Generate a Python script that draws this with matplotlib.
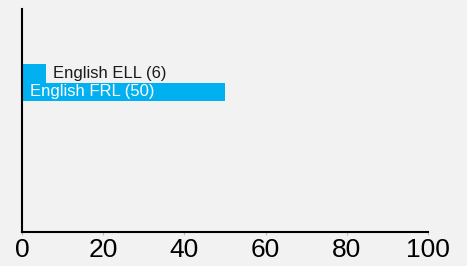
import matplotlib.pyplot as plt

categories = ["English ELL", "English FRL"]
values = [6, 50]
x_ticks = [0, 20, 40, 60, 80, 100]

BAR_COLOR = "#00b0f0"
BG = "#f2f2f2"

plt.rcParams['font.family'] = ['Liberation Sans', 'DejaVu Sans']

fig = plt.figure(figsize=(4.67, 2.66), dpi=100, facecolor=BG)
ax = fig.add_axes([0.0471, 0.1278, 0.8694, 0.8383], facecolor=BG)

pos = list(range(len(categories)))
ax.barh(pos, values, height=1.0, color=BAR_COLOR)

for p, cat, val in zip(pos, categories, values):
    label = f"{cat} ({val})"
    if val >= 20:
        ax.annotate(label, (0, p), xytext=(6, 0), textcoords='offset points',
                    va='center', ha='left', fontsize=12, color='white')
    else:
        ax.annotate(label, (val, p), xytext=(5, 0), textcoords='offset points',
                    va='center', ha='left', fontsize=12, color='#1a1a1a')

ax.set_xlim(0, 100)
ax.set_ylim(8.8, -3.58)
ax.set_xticks(x_ticks)
ax.set_yticks([])
ax.tick_params(axis='x', labelsize=19, length=2, width=0.8, color='#bbbbbb', pad=2)

for side in ['top', 'right']:
    ax.spines[side].set_visible(False)
for side in ['left', 'bottom']:
    ax.spines[side].set_linewidth(1.5)
    ax.spines[side].set_color('black')

plt.savefig('out.png', dpi=100, facecolor=BG)
plt.close(fig)
